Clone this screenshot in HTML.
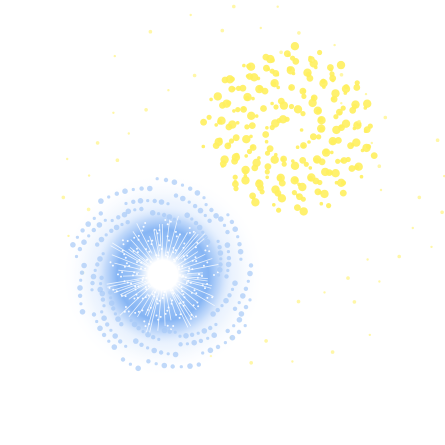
<!DOCTYPE html>
<html><head><meta charset="utf-8"><style>html,body{margin:0;padding:0;background:#fff;width:445px;height:445px;overflow:hidden}</style></head>
<body>
<svg id="c" width="445" height="445" viewBox="0 0 445 445" xmlns="http://www.w3.org/2000/svg">
<defs>
<radialGradient id="bg" cx="50%" cy="50%" r="50%">
<stop offset="0" stop-color="#ffffff"/><stop offset="0.2" stop-color="#ffffff"/>
<stop offset="0.4" stop-color="#9cc4f8"/><stop offset="0.62" stop-color="#86b5f4"/>
<stop offset="0.78" stop-color="#bcd6fa" stop-opacity="0.85"/><stop offset="1" stop-color="#ffffff" stop-opacity="0"/>
</radialGradient>
<radialGradient id="halo" cx="50%" cy="50%" r="50%">
<stop offset="0" stop-color="#d4e5fc"/><stop offset="0.7" stop-color="#ebf3fe"/><stop offset="1" stop-color="#fff" stop-opacity="0"/>
</radialGradient>
</defs>
<g id="yellow"></g>
<g id="blue">
<circle cx="163" cy="275" r="102" fill="url(#halo)"/>
<circle cx="163" cy="275" r="74" fill="url(#bg)"/>
</g>
</svg>
<script>
const yellowRadii=[18,28,38,48,58,66,74,82];
const yellowCounts=[10,18,26,34,40,44,44,38];
const blueInnerRadii=[20,28,36,44,52];
const blueOuterRadii=[60,68,76,84,92];
const ns='http://www.w3.org/2000/svg';
const G=2.39996;
function dot(g,x,y,r,fill,op){const c=document.createElementNS(ns,'circle');
c.setAttribute('cx',x.toFixed(1));c.setAttribute('cy',y.toFixed(1));c.setAttribute('r',r);
c.setAttribute('fill',fill);c.setAttribute('opacity',op);


g.appendChild(c);}
const yg=document.getElementById('yellow');
yellowRadii.forEach((R,i)=>{for(let k=0;k<yellowCounts[i];k++){const a=k*G*1.37+i*0.9;const j=((k*13)%9-4)*1.6;
dot(yg,290+Math.cos(a)*(R+j),130+Math.sin(a)*(R+j)*0.95,1.8+(k%4)*0.8,'#fff05e',0.9);}});
for(let k=0;k<60;k++){const a=k*G;const R=110+(k*37)%80;
dot(yg,260+Math.cos(a)*R*1.1,190+Math.sin(a)*R,1.2+(k%2)*0.6,'#fff48a',0.75);}
const bg=document.getElementById('blue');
for(let k=0;k<60;k++){const a=k*G*1.13;const r1=12+(k%5)*3,r2=40+(k*7)%22;
const l=document.createElementNS(ns,'line');
l.setAttribute('x1',(163+Math.cos(a)*r1).toFixed(1));l.setAttribute('y1',(275+Math.sin(a)*r1).toFixed(1));
l.setAttribute('x2',(163+Math.cos(a)*r2).toFixed(1));l.setAttribute('y2',(275+Math.sin(a)*r2).toFixed(1));
l.setAttribute('stroke','#ffffff');l.setAttribute('stroke-width','0.8');l.setAttribute('opacity','0.8');


bg.appendChild(l);}
blueInnerRadii.forEach((R,i)=>{for(let k=0;k<36;k++){const a=k*G*1.21+i*0.7;const j=((k*11)%7-3);
dot(bg,163+Math.cos(a)*(R+j),275+Math.sin(a)*(R+j),1,'#ffffff',0.9);}});
blueOuterRadii.forEach((R,i)=>{for(let k=0;k<40;k++){const a=k*G*1.29+i*1.3;const j=((k*11)%7-3)*1.5;
dot(bg,163+Math.cos(a)*(R+j),275+Math.sin(a)*(R+j),1.6+(k%3)*0.6,'#a6c9f7',0.7);}});
</script>
</body></html>
